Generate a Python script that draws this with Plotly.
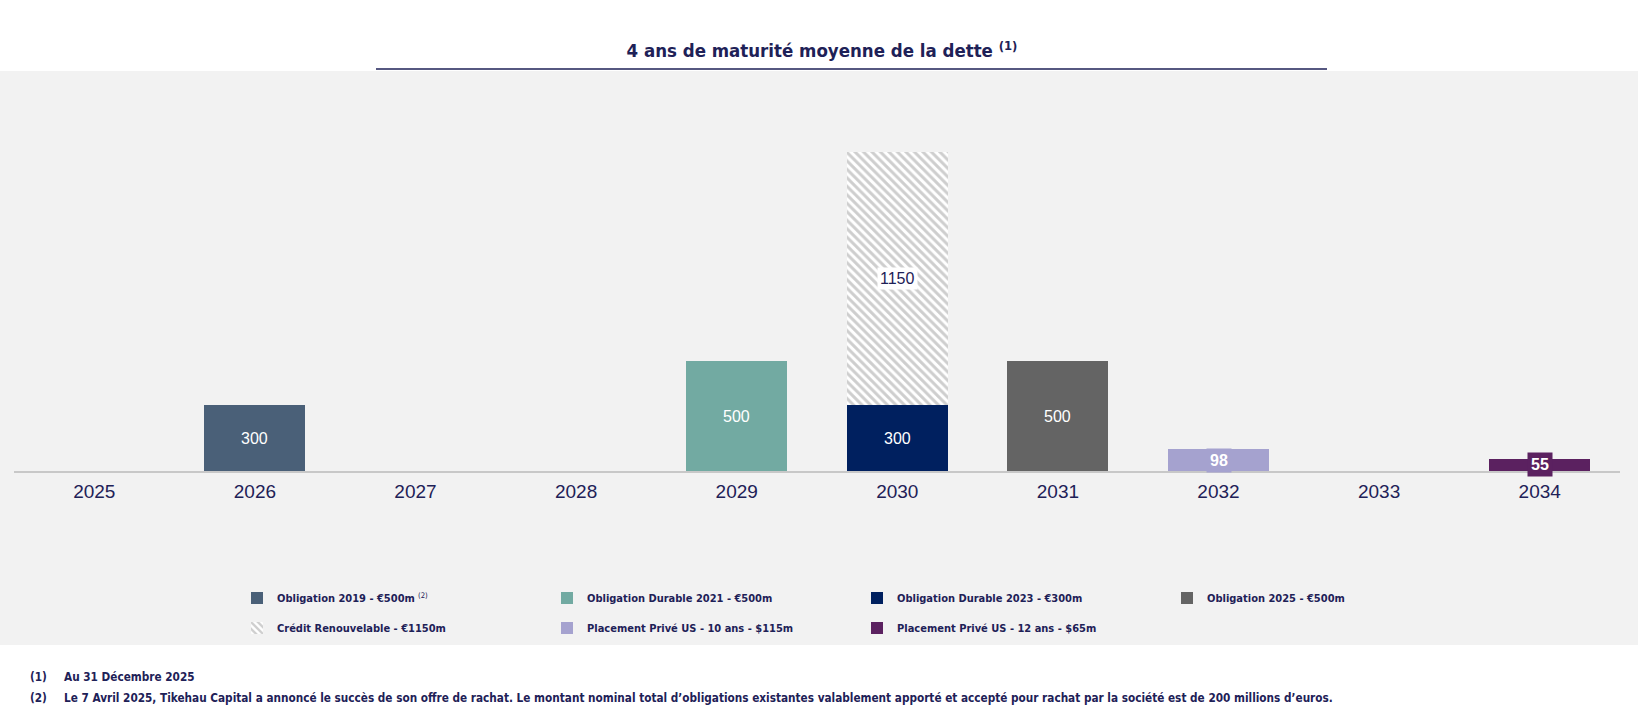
import plotly.graph_objects as go

# ---------------- data ----------------
years = ["2025", "2026", "2027", "2028", "2029", "2030", "2031", "2032", "2033", "2034"]

series_names = [
    "<b>Obligation 2019 - €500m</b> <sup>(2)</sup>",
    "<b>Obligation Durable 2021 - €500m</b>",
    "<b>Obligation Durable 2023 - €300m</b>",
    "<b>Obligation 2025 - €500m</b>",
    "<b>Crédit Renouvelable - €1150m</b>",
    "<b>Placement Privé US - 10 ans - $115m</b>",
    "<b>Placement Privé US - 12 ans - $65m</b>",
]
series_years = ["2026", "2029", "2030", "2031", "2030", "2032", "2034"]
series_values = [300, 500, 300, 500, 1150, 98, 55]

title_text = "4 ans de maturité moyenne de la dette <sup>(1)</sup>"
footnote_marks = ["(1)", "(2)"]
footnote_texts = [
    "Au 31 Décembre 2025",
    "Le 7 Avril 2025, Tikehau Capital a annoncé le succès de son offre de rachat. "
    "Le montant nominal total d’obligations existantes valablement apporté et accepté "
    "pour rachat par la société est de 200 millions d’euros.",
]

# ---------------- styles ----------------
W, H = 1638, 719
OFF = 0  # page body margin removed via post_script
ML, MR, MT, MB = 14, 18, 100, 248
PW, PH = W - ML - MR, H - MT - MB
NAVY = "#1e2157"
COND = "DejaVu Sans Condensed, Liberation Sans Narrow, Arial Narrow, sans-serif"
ARIAL = "Liberation Sans, Arial, sans-serif"

colors = ["#4a6078", "#72aaa2", "#00205f", "#646464", "#ffffff", "#a5a2cf", "#5b2160"]
legend_ids = ["legend", "legend", "legend", "legend", "legend2", "legend2", "legend2"]
label_styles = ["plain", "plain", "plain", "plain", "boxed_white", "boxed_bold", "boxed_bold"]


def px_x(s):
    return (s - OFF - ML) / PW


def px_y(s):
    return (H - MB - (s - OFF)) / PH


fig = go.Figure()
for i, name in enumerate(series_names):
    marker = dict(color=colors[i], line=dict(width=0))
    if label_styles[i] == "boxed_white":
        marker["pattern"] = dict(shape="\\", fgcolor="#9e9e9e", bgcolor="#ffffff",
                                 size=6, solidity=0.5)
    fig.add_trace(go.Bar(
        x=[series_years[i]], y=[series_values[i]], name=name,
        marker=marker, legend=legend_ids[i], hoverinfo="skip",
    ))

# data labels placed at the middle of each stacked segment
base = {y: 0 for y in years}
for i, name in enumerate(series_names):
    yr, v = series_years[i], series_values[i]
    mid = base[yr] + v / 2
    base[yr] += v
    xi = years.index(yr)
    st = label_styles[i]
    if st == "plain":
        fig.add_annotation(x=xi, y=mid, text=str(v), showarrow=False,
                           font=dict(family=ARIAL, size=16, color="#ffffff"))
    elif st == "boxed_white":
        fig.add_annotation(x=xi, y=mid, text=str(v), showarrow=False,
                           font=dict(family=ARIAL, size=16, color=NAVY),
                           bgcolor="#ffffff", borderpad=2)
    else:
        fig.add_annotation(x=xi, y=mid, text="<b>" + str(v) + "</b>", showarrow=False,
                           font=dict(family=ARIAL, size=16, color="#ffffff"),
                           bgcolor=colors[i], borderpad=3)

# footnotes
for j in range(len(footnote_texts)):
    yy = px_y(677 + 21 * j)
    fig.add_annotation(xref="paper", yref="paper", x=px_x(28), y=yy, xanchor="left",
                       yanchor="middle", text="<b>" + footnote_marks[j] + "</b>",
                       showarrow=False, font=dict(family=COND, size=11.7, color=NAVY))
    fig.add_annotation(xref="paper", yref="paper", x=px_x(62), y=yy, xanchor="left",
                       yanchor="middle", text="<b>" + footnote_texts[j] + "</b>",
                       showarrow=False, font=dict(family=COND, size=11.7, color=NAVY))

# grey panel and title underline
fig.add_shape(type="rect", xref="paper", yref="paper", layer="below",
              x0=px_x(-10), x1=px_x(W + 10), y0=px_y(645), y1=px_y(71),
              fillcolor="#f2f2f2", line=dict(width=0))
fig.add_shape(type="line", xref="paper", yref="paper",
              x0=px_x(376), x1=px_x(1327), y0=px_y(69), y1=px_y(69),
              line=dict(color=NAVY, width=1.5))

legend_common = dict(orientation="h", xanchor="left", yanchor="middle",
                     entrywidth=265, entrywidthmode="pixels",
                     font=dict(family=COND, size=11, color=NAVY),
                     bgcolor="rgba(0,0,0,0)", traceorder="normal")

fig.update_layout(
    width=W, height=H,
    margin=dict(l=ML, r=MR, t=MT, b=MB),
    paper_bgcolor="#ffffff", plot_bgcolor="#f2f2f2",
    barmode="stack", bargap=0.37,
    showlegend=True,
    title=dict(text="<b>" + title_text + "</b>", x=(822 - OFF) / W, xref="container",
               xanchor="center", y=1 - (51 - OFF) / H, yref="container", yanchor="middle",
               font=dict(family=COND, size=18.5, color=NAVY)),
    legend=dict(x=px_x(237), y=px_y(598), **legend_common),
    legend2=dict(x=px_x(237), y=px_y(628), **legend_common),
    xaxis=dict(type="category", categoryorder="array", categoryarray=years,
               range=[-0.5, len(years) - 0.5], showline=True, linecolor="#c8c8c8",
               linewidth=1.5, ticks="", showgrid=False, zeroline=False,
               tickfont=dict(family=ARIAL, size=19, color=NAVY), ticklabelstandoff=2,
               fixedrange=True),
    yaxis=dict(range=[0, PH / 0.2197], visible=False, fixedrange=True),
)

fig.write_html("out.html", config={"displayModeBar": False},
               post_script="document.body.style.margin='0';document.body.style.overflow='hidden';")
